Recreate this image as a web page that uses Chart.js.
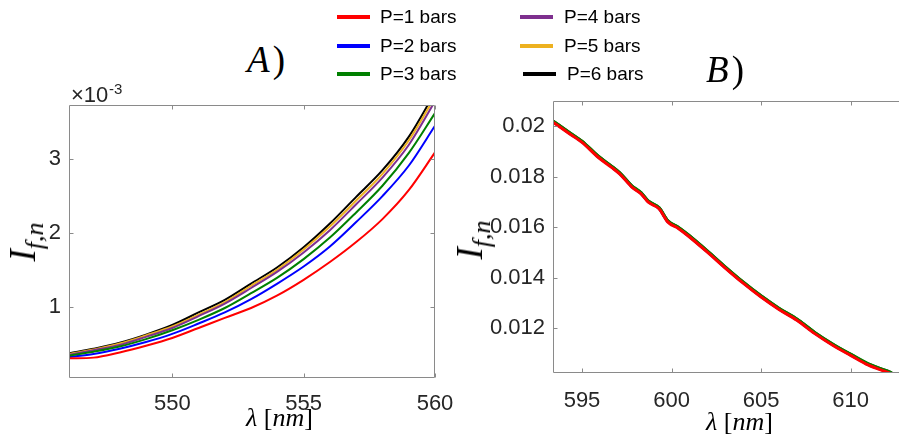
<!DOCTYPE html>
<html lang="en">
<head>
<meta charset="UTF-8">
<script src="https://cdn.jsdelivr.net/npm/chart.js"></script>
<title>If,n spectra</title>
<style>
  body { margin: 0; background: #fff; }
  #wrap { position: relative; width: 899px; height: 441px; overflow: hidden; background: #fff; }
  .box { position: absolute; }
  .lg-line { position: absolute; height: 4px; width: 33px; }
  .lg-text { position: absolute; font: 19px "Liberation Sans", Arial, sans-serif; color: #000; line-height: 19px; white-space: nowrap; }
  .serif { position: absolute; font-family: "Liberation Serif", "Times New Roman", serif; color: #000; white-space: nowrap; line-height: 1; }
  .ylab { position: absolute; transform: translate(-50%, -50%) rotate(-90deg); font-family: "Liberation Serif", serif; white-space: nowrap; line-height: 1; }
  .ylab i.big { font-size: 37px; }
  .ylab sub { font-size: 26px; font-style: italic; vertical-align: -8px; }
</style>
</head>
<body>
<div id="wrap">
  <div class="box" style="left:0;top:95px;width:470px;height:346px"><canvas id="chartA"></canvas></div>
  <div class="box" style="left:450px;top:90px;width:460px;height:351px"><canvas id="chartB"></canvas></div>

  <div class="serif" style="left:247px;top:41px;font-size:37px"><i>A</i>&#8202;)</div>
  <div class="serif" style="left:706px;top:51px;font-size:37px"><i>B</i>&#8202;)</div>

  <div class="ylab" style="left:26px;top:242px"><i class="big">I</i><sub>f,n</sub></div>
  <div class="ylab" style="left:473px;top:240px"><i class="big">I</i><sub>f,n</sub></div>

  <div class="serif" style="left:246px;top:405px;font-size:26px"><i>λ</i> [<i>nm</i>]</div>
  <div class="serif" style="left:706px;top:409px;font-size:26px"><i>λ</i> [<i>nm</i>]</div>

  <div style="position:absolute;left:71px;top:84px;font:22px 'Liberation Sans',Arial,sans-serif;color:#262626;line-height:22px">×10<span style="position:absolute;left:38px;top:-6px;font-size:15px">-3</span></div>

  <div id="legend"></div>
</div>

<script>
    // legend / series
    const legendLabels = ['P=1 bars', 'P=2 bars', 'P=3 bars', 'P=4 bars', 'P=5 bars', 'P=6 bars']
    const seriesColors = ['#ff0000', '#0000ff', '#008000', '#7e2f8e', '#edb120', '#000000']
    const drawOrder = [0, 2, 1, 3, 4, 5]

    // panel A (values x 1e-3)
    const lambdaA = [546.1, 547, 548, 549, 550, 551, 552, 553, 554, 555, 556, 557, 558, 559, 560]
    const p1A = [0.31, 0.32, 0.39, 0.48, 0.585, 0.72, 0.856, 0.99, 1.16, 1.37, 1.61, 1.88, 2.19, 2.58, 3.09]
    const p2A = [0.33, 0.37, 0.44, 0.53, 0.64, 0.78, 0.93, 1.11, 1.32, 1.55, 1.82, 2.15, 2.50, 2.91, 3.45]
    const p3A = [0.35, 0.40, 0.47, 0.57, 0.69, 0.83, 0.99, 1.19, 1.40, 1.65, 1.94, 2.28, 2.64, 3.08, 3.62]
    const p4A = [0.36, 0.42, 0.49, 0.60, 0.72, 0.88, 1.05, 1.26, 1.48, 1.74, 2.04, 2.39, 2.75, 3.19, 3.78]
    const p5A = [0.37, 0.43, 0.51, 0.62, 0.74, 0.90, 1.07, 1.29, 1.51, 1.78, 2.09, 2.44, 2.80, 3.25, 3.84]
    const p6A = [0.38, 0.44, 0.52, 0.63, 0.76, 0.93, 1.10, 1.32, 1.54, 1.81, 2.13, 2.49, 2.85, 3.30, 3.90]
    const xTicksA = [550, 555, 560]
    const yTicksA = [1, 2, 3]

    // panel B
    const lambdaB = [593.4, 594.2, 595.0, 595.9, 596.65, 597.1, 597.8, 598.3, 598.7, 599.3, 599.8, 600.4, 600.9, 602, 603, 604, 605, 606, 607, 608, 609, 610, 611, 612, 612.3]
    const p1B = [0.02015, 0.01975, 0.01936, 0.01877, 0.01837, 0.01811, 0.01758, 0.01732, 0.01699, 0.01673, 0.01620, 0.01594, 0.01567, 0.01501, 0.01438, 0.01378, 0.01323, 0.01274, 0.01231, 0.01178, 0.01132, 0.01092, 0.01053, 0.01026, 0.01017]
    const p2B = [0.02017, 0.01977, 0.01938, 0.01879, 0.01839, 0.01813, 0.01760, 0.01734, 0.01701, 0.01675, 0.01622, 0.01596, 0.01569, 0.01503, 0.01440, 0.01380, 0.01325, 0.01276, 0.01233, 0.01180, 0.01134, 0.01094, 0.01055, 0.01028, 0.01019]
    const p3B = [0.02020, 0.01980, 0.01941, 0.01882, 0.01842, 0.01816, 0.01763, 0.01737, 0.01704, 0.01678, 0.01625, 0.01599, 0.01572, 0.01506, 0.01443, 0.01383, 0.01328, 0.01279, 0.01236, 0.01183, 0.01137, 0.01097, 0.01058, 0.01031, 0.01022]
    const p4B = [0.02018, 0.01978, 0.01939, 0.01880, 0.01840, 0.01814, 0.01761, 0.01735, 0.01702, 0.01676, 0.01623, 0.01597, 0.01570, 0.01504, 0.01441, 0.01381, 0.01326, 0.01277, 0.01234, 0.01181, 0.01135, 0.01095, 0.01056, 0.01029, 0.01020]
    const p5B = [0.02019, 0.01979, 0.01940, 0.01881, 0.01841, 0.01815, 0.01762, 0.01736, 0.01703, 0.01677, 0.01624, 0.01598, 0.01571, 0.01505, 0.01442, 0.01382, 0.01327, 0.01278, 0.01235, 0.01182, 0.01136, 0.01096, 0.01057, 0.01030, 0.01021]
    const p6B = [0.02019, 0.01979, 0.01940, 0.01881, 0.01841, 0.01815, 0.01762, 0.01736, 0.01703, 0.01677, 0.01624, 0.01598, 0.01571, 0.01505, 0.01442, 0.01382, 0.01327, 0.01278, 0.01235, 0.01182, 0.01136, 0.01096, 0.01057, 0.01031, 0.01023]
    const xTicksB = [595, 600, 605, 610]
    const yTicksB = [0.012, 0.014, 0.016, 0.018, 0.02]

    // legend built as html
    const legendPos = [
        [337, 17, 380], [337, 46, 380], [337, 74, 380],
        [520, 17, 564], [520, 46, 564], [523, 74, 567]
    ]
    const lg = document.getElementById('legend')
    legendLabels.forEach((txt, i) => {
        const [lx, cy, tx] = legendPos[i]
        lg.innerHTML += `<div class="lg-line" style="left:${lx}px;top:${cy - 2}px;background:${seriesColors[i]}"></div>` +
            `<div class="lg-text" style="left:${tx}px;top:${cy - 10}px">${txt}</div>`
    })

    // box with inward ticks, matlab style
    const boxPlugin = {
        id: 'boxPlugin',
        afterDraw(chart, args, opts) {
            const ctx = chart.ctx
            const a = chart.chartArea
            const x = chart.scales.x, y = chart.scales.y
            const L = Math.round(a.left) + 0.5, R = Math.round(a.right) - 0.5
            const T = Math.round(a.top) + 0.5, B = Math.round(a.bottom) - 0.5
            ctx.save()
            ctx.strokeStyle = '#8a8a8a'
            ctx.lineWidth = 1
            ctx.beginPath()
            ctx.moveTo(L, T); ctx.lineTo(R, T)
            ctx.moveTo(L, T); ctx.lineTo(L, B); ctx.lineTo(R, B)
            if (opts.right) { ctx.moveTo(R, T); ctx.lineTo(R, B) }
            x.ticks.forEach(t => {
                const px = Math.round(x.getPixelForValue(t.value)) + 0.5
                ctx.moveTo(px, B); ctx.lineTo(px, B - 4)
                ctx.moveTo(px, T); ctx.lineTo(px, T + 4)
            })
            y.ticks.forEach(t => {
                const py = Math.round(y.getPixelForValue(t.value)) + 0.5
                ctx.moveTo(L, py); ctx.lineTo(L + 4, py)
                if (opts.right) { ctx.moveTo(R, py); ctx.lineTo(R - 4, py) }
            })
            ctx.stroke()
            ctx.restore()
        }
    }

    const tickFont = { family: '"Liberation Sans", Arial, sans-serif', size: 22 }

    function makeDatasets(lambda, series, width) {
        return series.map((vals, i) => ({
            label: legendLabels[i],
            data: vals.map((v, k) => ({ x: lambda[k], y: v })),
            borderColor: seriesColors[i],
            borderWidth: width,
            pointRadius: 0,
            cubicInterpolationMode: 'monotone',
            order: drawOrder[i]
        }))
    }

    function plotar(id, datasets, cfg) {
        new Chart(document.getElementById(id), {
            type: 'line',
            data: { datasets: datasets },
            plugins: [boxPlugin],
            options: {
                animation: false,
                responsive: true,
                maintainAspectRatio: false,
                layout: { padding: cfg.padding },
                plugins: { legend: { display: false }, tooltip: { enabled: false }, boxPlugin: { right: cfg.right } },
                scales: {
                    x: {
                        type: 'linear', min: cfg.xMin, max: cfg.xMax,
                        grid: { display: false, drawTicks: false }, border: { display: false },
                        afterBuildTicks: s => { s.ticks = cfg.xTicks.map(v => ({ value: v })) },
                        afterFit: s => { s.height = cfg.xH; s.paddingLeft = 0; s.paddingRight = 0 },
                        ticks: { color: '#262626', font: tickFont, padding: cfg.xPad, maxRotation: 0, callback: v => String(v) }
                    },
                    y: {
                        type: 'linear', min: cfg.yMin, max: cfg.yMax,
                        grid: { display: false, drawTicks: false }, border: { display: false },
                        afterBuildTicks: s => { s.ticks = cfg.yTicks.map(v => ({ value: v })) },
                        afterFit: s => { s.width = cfg.yW; s.paddingTop = 0; s.paddingBottom = 0 },
                        ticks: { color: '#262626', font: tickFont, padding: 8, callback: v => String(v) }
                    }
                }
            }
        })
    }

    plotar('chartA', makeDatasets(lambdaA, [p1A, p2A, p3A, p4A, p5A, p6A], 2), {
        padding: { top: 10, right: 35, left: 0, bottom: 0 },
        xMin: 546.07, xMax: 560, yMin: 0.045, yMax: 3.73,
        xTicks: xTicksA, yTicks: yTicksA, xH: 63, yW: 69, xPad: 13, right: true
    })

    plotar('chartB', makeDatasets(lambdaB, [p1B, p2B, p3B, p4B, p5B, p6B], 3), {
        padding: { top: 11, right: 10, left: 0, bottom: 0 },
        xMin: 593.38, xMax: 612.76, yMin: 0.01022, yMax: 0.0210,
        xTicks: xTicksB, yTicks: yTicksB, xH: 68, yW: 103, xPad: 15, right: false
    })
</script>
</body>
</html>
